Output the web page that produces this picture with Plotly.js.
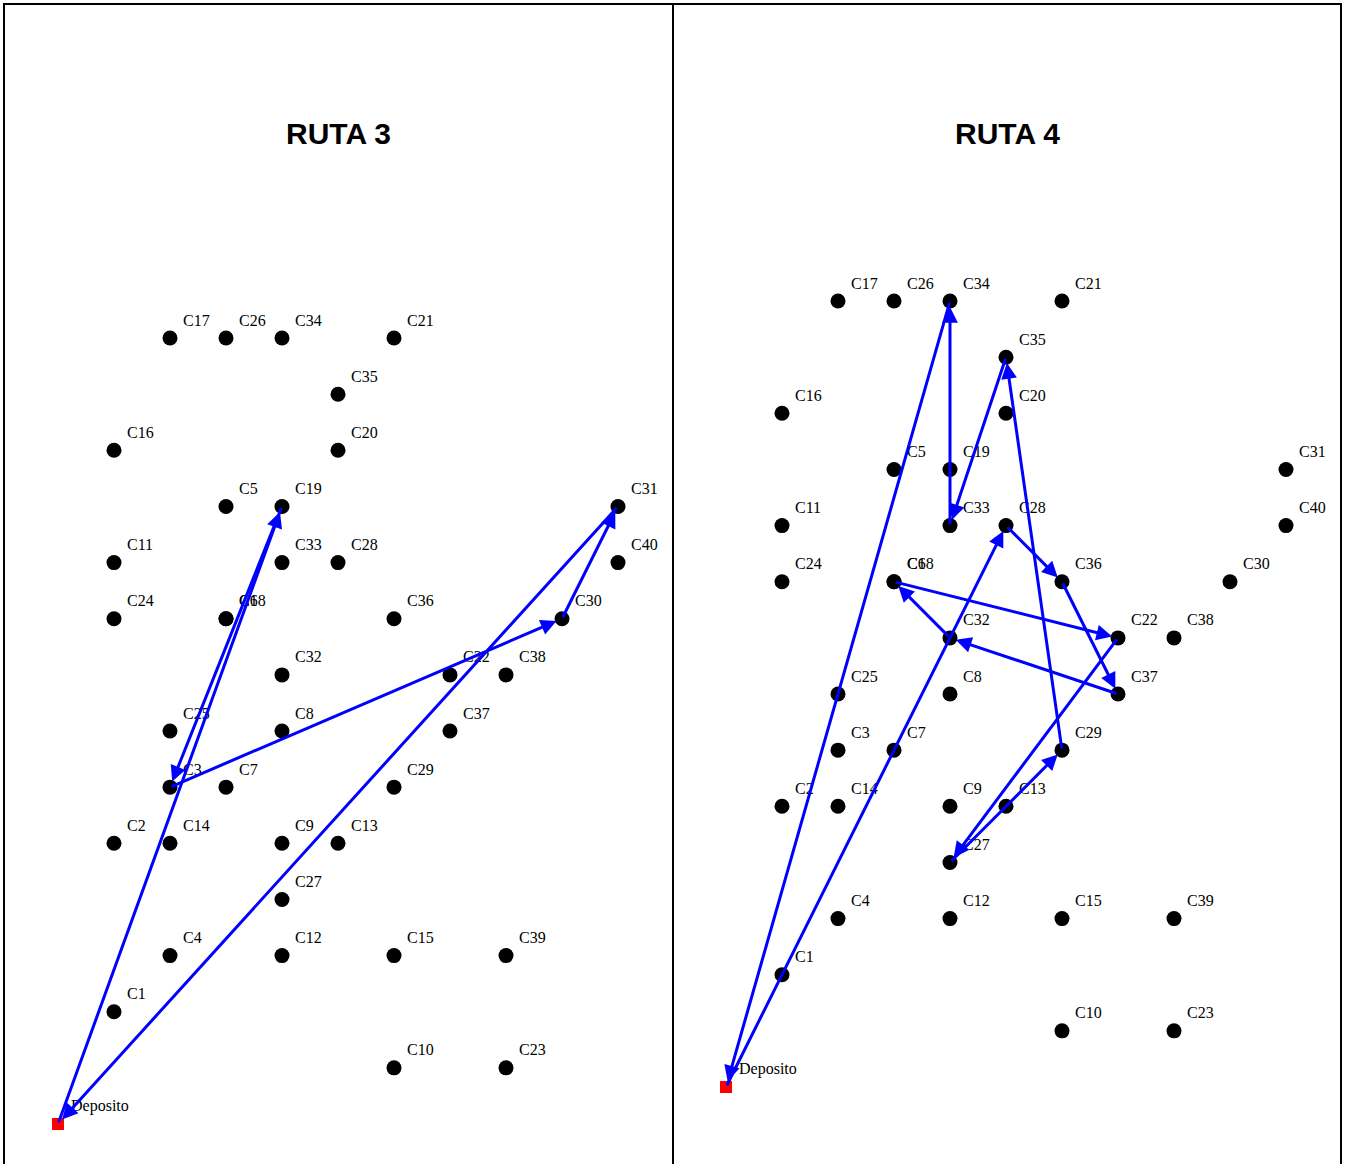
<!DOCTYPE html>
<html>
<head>
<meta charset="utf-8">
<script src="https://cdn.plot.ly/plotly-3.0.1.min.js"></script>
<style>html,body{margin:0;padding:0;background:#fff;}#chart{width:1346px;height:1164px;}</style>
</head>
<body>
<div id="chart"></div>
<script>
// ---- Data ----
const nodeNames = ['Deposito','C1','C2','C3','C4','C5','C6','C7','C8','C9','C10',
  'C11','C12','C13','C14','C15','C16','C17','C18','C19','C20',
  'C21','C22','C23','C24','C25','C26','C27','C28','C29','C30',
  'C31','C32','C33','C34','C35','C36','C37','C38','C39','C40'];
const nodeX = [0,1,1,2,2,3,3,3,4,4,6,
  1,4,5,2,6,1,2,3,4,5,
  6,7,8,1,2,3,4,5,6,9,
  10,4,4,4,5,6,7,8,8,10];
const nodeY = [0,2,5,6,3,11,9,6,7,5,1,
  10,3,5,5,3,12,14,9,11,12,
  14,8,1,9,7,14,4,10,6,9,
  11,8,10,14,13,9,7,8,3,10];
const route3 = ['Deposito','C19','C3','C30','C31','Deposito'];
const route4 = ['Deposito','C28','C36','C37','C32','C18','C22','C27','C29','C35','C33','C34','Deposito'];
const panelTitles = ['RUTA 3','RUTA 4'];

// ---- Layout helpers ----
const W = 1346, H = 1164;
const panels = [
  {route: route3, ox: 58, oy: 1124, ux: 56, uy: 56.14, xr: [-0.9, 10.9], yr: [-0.6, 15.5], tx: 338},
  {route: route4, ox: 726, oy: 1087, ux: 56, uy: 56.14, xr: [-0.9, 10.9], yr: [-1.2, 15.5], tx: 1007}
];
const idx = n => nodeNames.indexOf(n);

const traces = [];
const annotations = [];
const layout = {
  width: W, height: H,
  margin: {l: 0, r: 0, t: 0, b: 0},
  paper_bgcolor: '#fff', plot_bgcolor: 'rgba(0,0,0,0)',
  showlegend: false,
  annotations: annotations,
  shapes: []
};

panels.forEach((p, k) => {
  const sx = k === 0 ? '' : String(k + 1);
  const xa = 'x' + sx, ya = 'y' + sx;
  const left = p.ox + p.xr[0] * p.ux, right = p.ox + p.xr[1] * p.ux;
  const bottom = p.oy - p.yr[0] * p.uy, top = p.oy - p.yr[1] * p.uy;
  layout['xaxis' + sx] = {domain: [left / W, right / W], range: p.xr, visible: false, fixedrange: true, anchor: ya};
  layout['yaxis' + sx] = {domain: [(H - bottom) / H, (H - top) / H], range: p.yr, visible: false, fixedrange: true, anchor: xa};

  const custIdx = nodeNames.map((n, i) => i).filter(i => nodeNames[i] !== 'Deposito');
  traces.push({
    type: 'scatter', mode: 'markers', xaxis: xa, yaxis: ya, cliponaxis: false,
    x: custIdx.map(i => nodeX[i]), y: custIdx.map(i => nodeY[i]),
    marker: {color: '#000', size: 15, symbol: 'circle'}, hoverinfo: 'skip'
  });
  const d = idx('Deposito');
  traces.push({
    type: 'scatter', mode: 'markers', xaxis: xa, yaxis: ya, cliponaxis: false,
    x: [nodeX[d]], y: [nodeY[d]],
    marker: {color: '#ff0000', size: 12, symbol: 'square'}, hoverinfo: 'skip'
  });

  // labels
  nodeNames.forEach((n, i) => {
    annotations.push({
      xref: xa, yref: ya, x: nodeX[i], y: nodeY[i], text: n, showarrow: false,
      xanchor: 'left', yanchor: 'middle', xshift: 11, yshift: 18,
      font: {family: '"Liberation Serif", "Times New Roman", serif', size: 16, color: '#000'}
    });
  });

  // route arrows
  for (let j = 0; j < p.route.length - 1; j++) {
    const a = idx(p.route[j]), b = idx(p.route[j + 1]);
    annotations.push({
      xref: xa, yref: ya, axref: xa, ayref: ya,
      x: nodeX[b], y: nodeY[b], ax: nodeX[a], ay: nodeY[a],
      text: '', showarrow: true, arrowhead: 2, arrowsize: 1.05, arrowwidth: 3,
      arrowcolor: '#0000ff', standoff: 6
    });
  }

  // title
  annotations.push({
    xref: 'paper', yref: 'paper', x: p.tx / W, y: (H - 133) / H,
    xanchor: 'center', yanchor: 'middle', showarrow: false,
    text: '<b>' + panelTitles[k] + '</b>',
    font: {family: '"Liberation Sans", Arial, sans-serif', size: 30, color: '#000'}
  });
});

// frame lines
const lineStyle = {color: '#000', width: 2};
const fx = v => v / W, fy = v => 1 - v / H;
layout.shapes.push({type: 'line', xref: 'paper', yref: 'paper', x0: fx(4), x1: fx(1342), y0: fy(4), y1: fy(4), line: lineStyle});
[4, 673, 1341].forEach(xp => {
  layout.shapes.push({type: 'line', xref: 'paper', yref: 'paper', x0: fx(xp), x1: fx(xp), y0: fy(3), y1: fy(1164), line: lineStyle});
});

Plotly.newPlot('chart', traces, layout, {staticPlot: true, displayModeBar: false});
</script>
</body>
</html>
